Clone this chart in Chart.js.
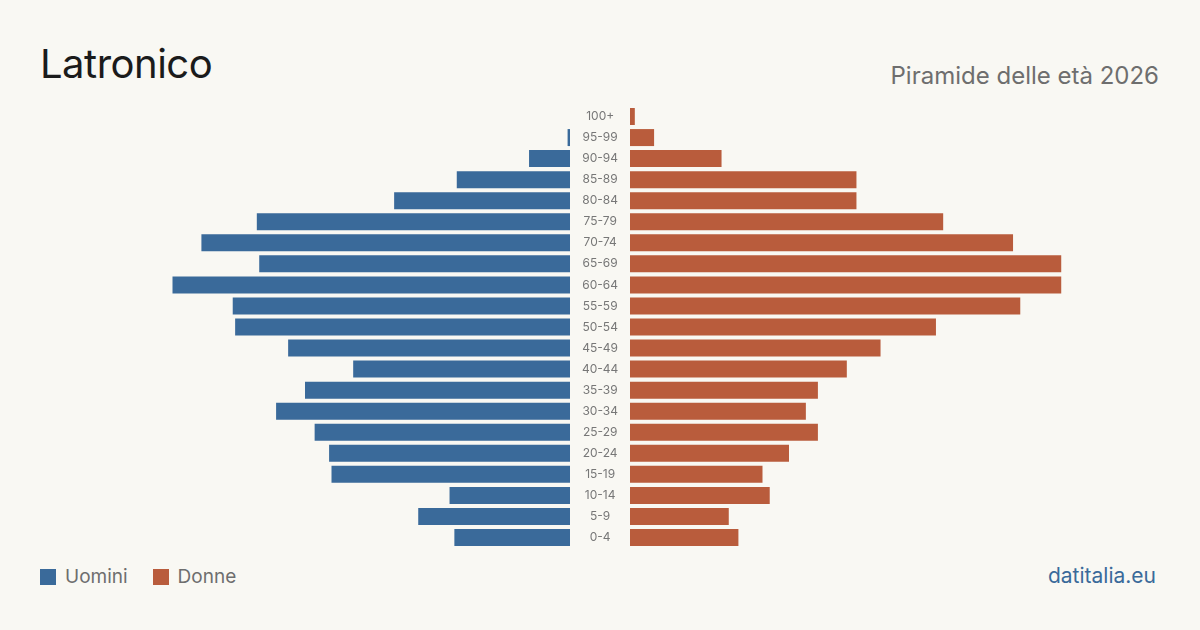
<!DOCTYPE html>
<html>
<head>
<meta charset="utf-8">
<script src="https://cdn.jsdelivr.net/npm/chart.js@4"></script>
<style>
  html, body { margin: 0; padding: 0; }
  body { width: 1200px; height: 630px; background: #f9f8f3; font-family: Inter, sans-serif; position: relative; overflow: hidden; }
  .title { position: absolute; left: 40px; top: 44px; font-size: 40px; letter-spacing: -0.5px; color: #1b1b1b; line-height: 1; }
  .subtitle { position: absolute; right: 41px; top: 64px; font-size: 24px; color: #6e6e6e; line-height: 1; }
  .legend { position: absolute; left: 40px; top: 567px; font-size: 19px; color: #6e6e6e; display: flex; align-items: center; line-height: 1; }
  .legend span.sw { display: inline-block; width: 16px; height: 16px; margin-right: 9px; }
  .legend span.item { display: flex; align-items: center; margin-right: 25px; }
  .source { position: absolute; right: 44px; top: 565px; font-size: 21px; color: #3a6a9a; line-height: 1; }
  #leftWrap { position: absolute; left: 40px; top: 106px; width: 590px; height: 442px; }
  #rightWrap { position: absolute; left: 630px; top: 106px; width: 530px; height: 442px; }
</style>
</head>
<body>
<div class="title">Latronico</div>
<div class="subtitle">Piramide delle età 2026</div>
<div class="legend">
  <span class="item"><span class="sw" style="background:#3a6a9a"></span>Uomini</span>
  <span class="item"><span class="sw" style="background:#b95c3c"></span>Donne</span>
</div>
<div class="source">datitalia.eu</div>
<div id="leftWrap"><canvas id="leftChart"></canvas></div>
<div id="rightWrap"><canvas id="rightChart"></canvas></div>
<script>
// age classes, oldest first (top of the pyramid)
const ageGroups = ['100+', '95-99', '90-94', '85-89', '80-84', '75-79', '70-74', '65-69', '60-64', '55-59',
  '50-54', '45-49', '40-44', '35-39', '30-34', '25-29', '20-24', '15-19', '10-14', '5-9', '0-4'];
const men = [0, 1, 17, 47, 73, 130, 153, 129, 165, 140, 139, 117, 90, 110, 122, 106, 100, 99, 50, 63, 48];
const women = [2, 10, 38, 94, 94, 130, 159, 179, 179, 162, 127, 104, 90, 78, 73, 78, 66, 55, 58, 41, 45];
const axisMax = 220;

const BLUE = '#3a6a9a', RUST = '#b95c3c';
Chart.defaults.font.family = "Inter, sans-serif";
Chart.defaults.animation = false;

const barStyle = { barThickness: 17, borderWidth: 0, inflateAmount: 0 };

new Chart(document.getElementById('leftChart'), {
  type: 'bar',
  data: { labels: ageGroups, datasets: [{ label: 'Uomini', data: men, backgroundColor: BLUE, ...barStyle }] },
  options: {
    indexAxis: 'y', responsive: true, maintainAspectRatio: false,
    layout: { padding: 0 },
    plugins: { legend: { display: false }, tooltip: { enabled: false } },
    scales: {
      x: { reverse: true, min: 0, max: axisMax, display: false },
      y: {
        position: 'right',
        grid: { display: false }, border: { display: false },
        ticks: { color: '#777', font: { size: 12 }, crossAlign: 'center', padding: 4 },
        // fixed 60px label column, no extra padding above/below the rows
        afterFit: (axis) => { axis.width = 60; axis.paddingTop = 0; axis.paddingBottom = 0; },
      },
    },
  },
});

new Chart(document.getElementById('rightChart'), {
  type: 'bar',
  data: { labels: ageGroups, datasets: [{ label: 'Donne', data: women, backgroundColor: RUST, ...barStyle }] },
  options: {
    indexAxis: 'y', responsive: true, maintainAspectRatio: false,
    layout: { padding: 0 },
    plugins: { legend: { display: false }, tooltip: { enabled: false } },
    scales: {
      x: { min: 0, max: axisMax, display: false },
      y: { display: false },
    },
  },
});
</script>
</body>
</html>
